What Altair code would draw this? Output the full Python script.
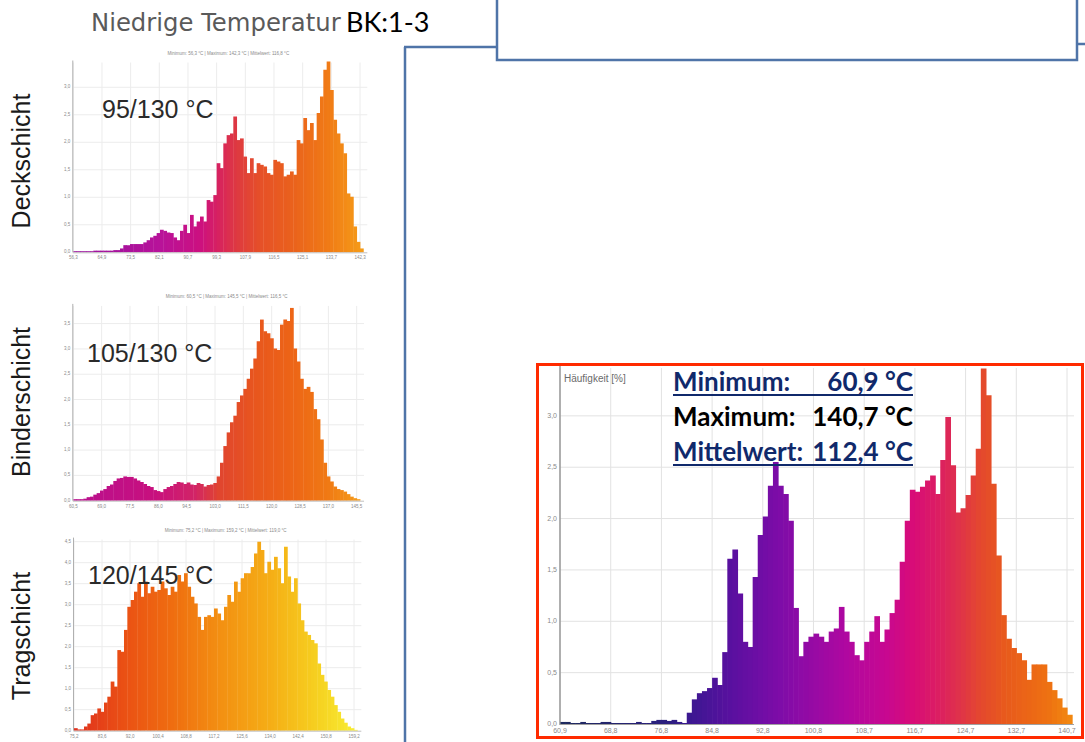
import altair as alt
import pandas as pd

# ---------------- Hauptdiagramm: Häufigkeit [%] je Temperaturklasse ----------------
haupt_min = 60.87
haupt_max = 140.66
haupt_mittel = 112.4
haupt_werte = [
    0.02, 0.02, 0.01, 0.01, 0.02, 0.01, 0.01, 0.01, 0.02, 0.02,
    0.01, 0.01, 0.01, 0.01, 0.01, 0.02, 0.01, 0.01, 0.03, 0.04,
    0.04, 0.03, 0.04, 0.02, 0.01,
    0.11, 0.24, 0.30, 0.32, 0.35, 0.45, 0.38, 0.70, 1.61, 1.70,
    1.27, 0.80, 0.75, 1.43, 1.84, 2.02, 2.32, 2.55, 2.32, 2.24,
    1.98, 1.13, 0.66, 0.80, 0.85, 0.88, 0.85, 0.80, 0.90, 0.93,
    1.14, 0.90, 0.80, 0.67, 0.62, 0.80, 0.90, 1.05, 0.80, 0.92,
    1.08, 1.21, 1.58, 1.98, 2.28, 2.26, 2.31, 2.37, 2.42, 2.24,
    2.57, 2.99, 2.52, 2.06, 2.10, 2.23, 2.42, 2.68, 3.46, 3.20,
    2.34, 1.64, 1.06, 0.83, 0.74, 0.69, 0.62, 0.43, 0.58, 0.58,
    0.58, 0.41, 0.33, 0.25, 0.16, 0.09,
]
haupt_x_ticks = [60.87, 68.85, 76.83, 84.81, 92.78, 100.76, 108.74, 116.72, 124.70, 132.68, 140.66]
haupt_x_labels = ["60,9", "68,8", "76,8", "84,8", "92,8", "100,8", "108,7", "116,7", "124,7", "132,7", "140,7"]
haupt_y_ticks = [0.0, 0.5, 1.0, 1.5, 2.0, 2.5, 3.0]
haupt_y_labels = ["0,0", "0,5", "1,0", "1,5", "2,0", "2,5", "3,0"]
haupt_farb_t = [60.87, 78.0, 81.0, 88.0, 95.5, 106.0, 112.3, 116.4, 120.7, 124.0, 127.0, 131.0, 137.5, 141.5]
haupt_farben = ["#1e2a5e", "#2c1f80", "#3a1890", "#5a10a0", "#7e0ca8", "#b008a0", "#c80890",
                "#d80c78", "#dc2060", "#e03448", "#e4482e", "#e85a1c", "#ee7012", "#f28a10"]

# ---------------- Schichten (links) ----------------
deck_min, deck_max = 56.3, 142.3
deck_werte = [
    0.02, 0.02, 0.02, 0.02, 0.02, 0.02, 0.03, 0.03, 0.03, 0.03,
    0.03, 0.03, 0.04, 0.04, 0.07, 0.13, 0.13, 0.15, 0.15, 0.15,
    0.15, 0.18, 0.22, 0.27, 0.30, 0.35, 0.41, 0.39, 0.36, 0.35,
    0.27, 0.22, 0.39, 0.50, 0.35, 0.68, 0.47, 0.56, 0.65, 0.56,
    0.95, 0.92, 1.04, 1.62, 1.53, 1.98, 2.13, 2.16, 2.47, 2.04,
    2.07, 1.74, 1.44, 1.71, 1.44, 1.62, 1.59, 1.56, 1.44, 1.41,
    1.68, 1.65, 1.62, 1.38, 1.41, 1.47, 1.41, 2.04, 1.98, 2.44,
    2.22, 2.35, 2.04, 2.53, 2.83, 3.32, 3.47, 2.95, 2.41, 2.16,
    1.98, 1.80, 1.07, 1.01, 0.47, 0.19, 0.07,
]
deck_farb_t = [56.3, 70.5, 82.4, 94.4, 100.4, 105.4, 112.4, 122.3, 132.5, 142.3]
deck_farben = ["#9a18a0", "#a8129c", "#b8129a", "#cc1080", "#d8245c", "#de3a40", "#e65028",
               "#ea621c", "#f07a16", "#f59a18"]

binder_min, binder_max = 60.5, 145.5
binder_werte = [
    0.03, 0.03, 0.03, 0.04, 0.07, 0.08, 0.12, 0.15, 0.20, 0.23,
    0.29, 0.32, 0.39, 0.44, 0.45, 0.48, 0.47, 0.47, 0.44, 0.40,
    0.37, 0.33, 0.29, 0.27, 0.21, 0.19, 0.17, 0.23, 0.27, 0.29,
    0.33, 0.37, 0.36, 0.33, 0.36, 0.32, 0.31, 0.35, 0.33, 0.28,
    0.31, 0.32, 0.35, 0.48, 0.75, 1.08, 1.35, 1.55, 1.68, 1.95,
    2.08, 2.21, 2.41, 2.61, 2.81, 3.15, 3.58, 3.35, 3.31, 3.21,
    3.01, 2.98, 3.48, 3.58, 3.55, 3.81, 3.01, 2.75, 2.41, 2.21,
    2.25, 2.15, 1.81, 1.61, 1.21, 0.75, 0.48, 0.38, 0.28, 0.23,
    0.21, 0.18, 0.13, 0.08, 0.05, 0.03,
]
binder_farb_t = [60.5, 85.0, 97.0, 104.0, 115.0, 127.0, 137.0, 145.5]
binder_farben = ["#b8108f", "#c8107e", "#d22466", "#e04430", "#e8561e", "#ed6616", "#f07a14", "#f59a1a"]

trag_min, trag_max = 75.2, 159.2
trag_werte = [
    0.06, 0.03, 0.03, 0.10, 0.17, 0.37, 0.41, 0.53, 0.45, 0.67,
    0.81, 1.17, 1.05, 1.92, 1.88, 2.40, 2.95, 3.11, 3.31, 3.51,
    3.19, 3.55, 3.27, 3.43, 3.31, 3.35, 3.55, 3.39, 3.23, 3.43,
    3.31, 3.71, 3.55, 3.75, 3.43, 3.19, 3.03, 2.71, 2.40, 2.71,
    2.75, 2.71, 2.91, 2.79, 2.63, 2.95, 3.23, 3.07, 3.55, 3.31,
    3.63, 3.75, 3.75, 3.90, 4.22, 4.50, 4.30, 3.75, 4.02, 3.83,
    4.14, 3.87, 3.51, 4.38, 3.67, 3.31, 3.63, 3.03, 2.63, 2.36,
    2.28, 2.16, 2.08, 1.60, 1.33, 1.17, 0.97, 0.81, 0.61, 0.45,
    0.29, 0.19, 0.10, 0.06, 0.02,
]
trag_farb_t = [75.2, 90.0, 105.0, 120.0, 135.0, 148.0, 159.2]
trag_farben = ["#e0301e", "#ea5014", "#ef6e10", "#f39212", "#f5b016", "#f6d020", "#f8ec32"]

one = pd.DataFrame({"k": [0]})


def komma(v):
    return f"{v:.1f}".replace(".", ",")


def klassen(werte, tmin, tmax):
    n = len(werte)
    step = (tmax - tmin) / (n - 1)
    rows = []
    for i, v in enumerate(werte):
        t0 = tmin + i * step
        # the right edge overlaps the neighbour a little so no hairline seams appear
        rows.append({"t0": t0, "t1": t0 + step * 1.12, "mid": t0 + step / 2, "v": v, "basis": 0.0})
    return pd.DataFrame(rows)


def balken(df, xs, ys, cs):
    return alt.Chart(df).mark_rect(strokeWidth=0).encode(
        x=alt.X("t0:Q", scale=xs, axis=None),
        x2="t1:Q",
        y=alt.Y("v:Q", scale=ys, axis=None),
        y2="basis:Q",
        color=alt.Color("mid:Q", scale=cs, legend=None),
    )


def vgitter(ticks, xs, y_top, y_bot, color):
    return alt.Chart(pd.DataFrame({"t": ticks})).mark_rule(color=color, strokeWidth=1).encode(
        x=alt.X("t:Q", scale=xs, axis=None), y=alt.value(y_top), y2=alt.value(y_bot)
    )


def hgitter(ticks, ys, x_left, x_right, color):
    return alt.Chart(pd.DataFrame({"v": ticks})).mark_rule(color=color, strokeWidth=1).encode(
        y=alt.Y("v:Q", scale=ys, axis=None), x=alt.value(x_left), x2=alt.value(x_right)
    )


def xbeschriftung(ticks, labels, xs, y, size, color):
    return alt.Chart(pd.DataFrame({"t": ticks, "lab": labels})).mark_text(
        baseline="top", align="center", fontSize=size, color=color, font="Liberation Sans"
    ).encode(x=alt.X("t:Q", scale=xs, axis=None), y=alt.value(y), text="lab:N")


def ybeschriftung(ticks, labels, ys, x, size, color):
    return alt.Chart(pd.DataFrame({"v": ticks, "lab": labels})).mark_text(
        baseline="middle", align="right", fontSize=size, color=color, font="Liberation Sans"
    ).encode(y=alt.Y("v:Q", scale=ys, axis=None), x=alt.value(x), text="lab:N")


def text_at(s, x, y, size, color="#000000", font="Liberation Sans", weight="normal",
            align="left", angle=0, baseline="alphabetic"):
    return alt.Chart(one).mark_text(
        text=s, fontSize=size, font=font, fontWeight=weight, color=color,
        align=align, baseline=baseline, angle=angle
    ).encode(x=alt.value(x), y=alt.value(y))


def linie(x1, y1, x2, y2, color, width):
    return alt.Chart(one).mark_rule(color=color, strokeWidth=width).encode(
        x=alt.value(x1), y=alt.value(y1), x2=alt.value(x2), y2=alt.value(y2)
    )


def rahmen(x1, y1, x2, y2, stroke, width, fill=None):
    if fill is None:
        m = alt.Chart(one).mark_rect(fillOpacity=0, stroke=stroke, strokeWidth=width)
    else:
        m = alt.Chart(one).mark_rect(fill=fill, stroke=stroke, strokeWidth=width)
    return m.encode(x=alt.value(x1), y=alt.value(y1), x2=alt.value(x2), y2=alt.value(y2))


layers = []


# ---------- kleine Histogramme ----------
def schicht(werte, tmin, tmax, x_px, y_base, y_top, ymax, farb_t, farben, beschriftung, lab_x, lab_y):
    df = klassen(werte, tmin, tmax)
    xs = alt.Scale(domain=[tmin, tmax], range=list(x_px), nice=False, zero=False)
    ys = alt.Scale(domain=[0, ymax], range=[y_base, y_top], nice=False, zero=False)
    cs = alt.Scale(domain=farb_t, range=farben, interpolate="rgb")
    xticks = [tmin + k * (tmax - tmin) / 10 for k in range(11)]
    yticks = [k * 0.5 for k in range(int(ymax / 0.5) + 1)]
    mittel = sum(r.mid * r.v for r in df.itertuples()) / sum(df.v)
    titel = f"Minimum: {komma(tmin)} °C | Maximum: {komma(tmax)} °C | Mittelwert: {komma(mittel)} °C"
    x_end = x_px[1] + (x_px[1] - x_px[0]) / (len(werte) - 1)
    out = [
        vgitter(xticks, xs, y_top, y_base, "#ececec"),
        hgitter(yticks[1:], ys, x_px[0], x_end + 4, "#ececec"),
        balken(df, xs, ys, cs),
        linie(x_px[0] - 0.5, y_top - 2, x_px[0] - 0.5, y_base, "#b0b0b0", 1),
        linie(x_px[0] - 0.5, y_base + 0.5, x_end + 4, y_base + 0.5, "#c0c0c0", 1),
        xbeschriftung(xticks, [komma(t) for t in xticks], xs, y_base + 3, 4.5, "#8a8a8a"),
        ybeschriftung(yticks, [komma(v) for v in yticks], ys, x_px[0] - 3, 4.5, "#8a8a8a"),
        text_at(titel, (x_px[0] + x_end) / 2 + 10, y_top - 9, 4.5, color="#8a8a8a", align="center",
                baseline="middle"),
        text_at(beschriftung, lab_x, lab_y, 25, color="#2a2a2a"),
    ]
    return out


layers += schicht(deck_werte, deck_min, deck_max, (73.3, 360.0), 252.3, 62.5, 3.45,
                  deck_farb_t, deck_farben, "95/130 °C", 102, 118)
layers += schicht(binder_werte, binder_min, binder_max, (73.3, 356.7), 500.7, 305.9, 3.85,
                  binder_farb_t, binder_farben, "105/130 °C", 87, 362)
layers += schicht(trag_werte, trag_min, trag_max, (74.0, 354.0), 730.7, 539.6, 4.55,
                  trag_farb_t, trag_farben, "120/145 °C", 88, 584)

# Schichtnamen, senkrecht
layers += [
    text_at("Deckschicht", 22, 161, 25, color="#1a1a1a", align="center", angle=270, baseline="middle"),
    text_at("Binderschicht", 22, 402, 25, color="#1a1a1a", align="center", angle=270, baseline="middle"),
    text_at("Tragschicht", 22, 636, 25, color="#1a1a1a", align="center", angle=270, baseline="middle"),
]

# ---------- Kopfzeile und Verbindungslinien ----------
blau = "#4f74a8"
layers += [
    text_at("Niedrige Temperatur", 91, 31, 24.3, color="#5a5a5a", font="DejaVu Sans"),
    text_at("BK:1-3", 346, 32, 27, color="#000000", font="Lato"),
    linie(405, 47, 405, 745, blau, 2.5),
    linie(404, 47, 497, 47, blau, 2.5),
    linie(1077, 44, 1090, 44, blau, 2.5),
    rahmen(497, -5, 1077, 60, blau, 2.5, fill="#ffffff"),
]

# ---------- Hauptdiagramm ----------
hx = alt.Scale(domain=[haupt_min, haupt_max], range=[560, 1067], nice=False, zero=False)
hy = alt.Scale(domain=[0, 3.466], range=[724, 368], nice=False, zero=False)
hc = alt.Scale(domain=haupt_farb_t, range=haupt_farben, interpolate="rgb")
haupt_df = klassen(haupt_werte, haupt_min, haupt_max)

navy = "#10296b"
fs = 26
layers += [
    vgitter(haupt_x_ticks, hx, 368, 724, "#e2e2e2"),
    hgitter(haupt_y_ticks[1:], hy, 560, 1074, "#e2e2e2"),
    balken(haupt_df, hx, hy, hc),
    linie(560, 366, 560, 725, "#8c8c8c", 1.3),
    linie(560, 724.5, 1074, 724.5, "#a0a0a0", 1),
    xbeschriftung(haupt_x_ticks, haupt_x_labels, hx, 727, 7, "#8a8a8a"),
    ybeschriftung(haupt_y_ticks, haupt_y_labels, hy, 557, 7, "#8a8a8a"),
    text_at("Häufigkeit [%]", 564, 379, 10, color="#6a6a6a", baseline="middle"),
    text_at("Minimum:", 673, 391, fs, color=navy, font="Lato", weight="bold"),
    text_at(f"{komma(haupt_min)} °C", 913, 391, fs, color=navy, font="Lato", weight="bold", align="right"),
    linie(673, 395, 913, 395, navy, 2),
    text_at("Maximum:", 673, 426, fs, color="#000000", font="Lato", weight="bold"),
    text_at(f"{komma(haupt_max)} °C", 913, 426, fs, color="#000000", font="Lato", weight="bold", align="right"),
    text_at("Mittelwert:", 673, 461, fs, color=navy, font="Lato", weight="bold"),
    text_at(f"{komma(haupt_mittel)} °C", 913, 461, fs, color=navy, font="Lato", weight="bold", align="right"),
    linie(673, 465, 913, 465, navy, 2),
    rahmen(537.5, 364.5, 1082.5, 737.5, "#ff2a00", 3),
]

chart = (
    alt.layer(*layers)
    .resolve_scale(x="independent", y="independent", color="independent")
    .properties(width=1085, height=742, padding=0, autosize="none", background="white")
    .configure_view(strokeWidth=0)
)

chart.save("out.html", embed_options={"renderer": "svg", "actions": False})
